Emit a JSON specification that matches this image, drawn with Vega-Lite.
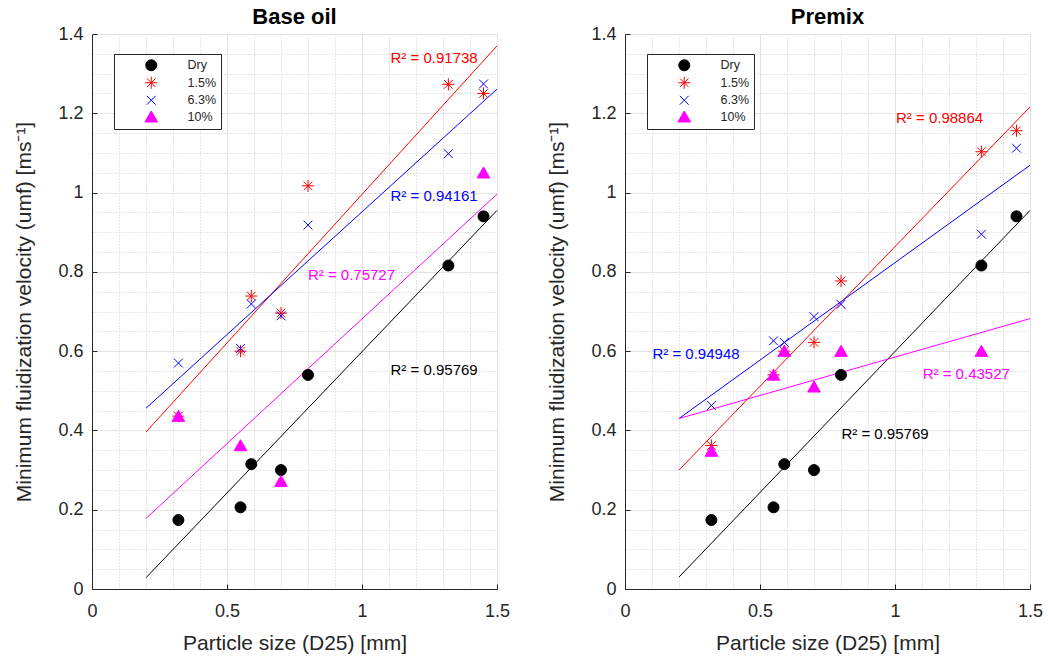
{
  "$schema": "https://vega.github.io/schema/vega-lite/v6.json",
  "background": "white",
  "padding": {"left": 13, "top": 5, "right": 5, "bottom": 3},
  "spacing": 128,
  "bounds": "flush",
  "config": {
    "font": "Liberation Sans",
    "view": {"stroke": null},
    "axis": {
      "labelFont": "Liberation Sans", "labelFontSize": 18, "labelColor": "#262626",
      "titleFont": "Liberation Sans", "titleFontSize": 21, "titleFontWeight": "normal", "titleColor": "#262626",
      "domainColor": "#262626", "tickColor": "#262626", "gridColor": "#e3e3e3"
    },
    "legend": {"title": null, "strokeColor": "#262626", "fillColor": "white", "padding": 5, "symbolOffset": 26, "labelOffset": 30, "labelFontSize": 12.5, "labelFont": "Liberation Sans", "labelColor": "#262626", "rowPadding": 1.5, "symbolSize": 121, "symbolStrokeWidth": 1},
    "title": {"font": "Liberation Sans", "fontSize": 22, "fontWeight": "bold", "color": "#000000", "offset": -3.5, "frame": "group"}
  },
  "datasets": {
    "points": [
      {"panel": "Base oil", "series": "Dry", "x": 0.32, "y": 0.174},
      {"panel": "Base oil", "series": "Dry", "x": 0.55, "y": 0.206},
      {"panel": "Base oil", "series": "Dry", "x": 0.59, "y": 0.315},
      {"panel": "Base oil", "series": "Dry", "x": 0.70, "y": 0.300},
      {"panel": "Base oil", "series": "Dry", "x": 0.80, "y": 0.540},
      {"panel": "Base oil", "series": "Dry", "x": 1.32, "y": 0.816},
      {"panel": "Base oil", "series": "Dry", "x": 1.45, "y": 0.940},
      {"panel": "Base oil", "series": "1.5%", "x": 0.32, "y": 0.436},
      {"panel": "Base oil", "series": "1.5%", "x": 0.55, "y": 0.600},
      {"panel": "Base oil", "series": "1.5%", "x": 0.59, "y": 0.739},
      {"panel": "Base oil", "series": "1.5%", "x": 0.70, "y": 0.696},
      {"panel": "Base oil", "series": "1.5%", "x": 0.80, "y": 1.017},
      {"panel": "Base oil", "series": "1.5%", "x": 1.32, "y": 1.273},
      {"panel": "Base oil", "series": "1.5%", "x": 1.45, "y": 1.250},
      {"panel": "Base oil", "series": "6.3%", "x": 0.32, "y": 0.570},
      {"panel": "Base oil", "series": "6.3%", "x": 0.55, "y": 0.607},
      {"panel": "Base oil", "series": "6.3%", "x": 0.59, "y": 0.719},
      {"panel": "Base oil", "series": "6.3%", "x": 0.70, "y": 0.689},
      {"panel": "Base oil", "series": "6.3%", "x": 0.80, "y": 0.918},
      {"panel": "Base oil", "series": "6.3%", "x": 1.32, "y": 1.098},
      {"panel": "Base oil", "series": "6.3%", "x": 1.45, "y": 1.274},
      {"panel": "Base oil", "series": "10%", "x": 0.32, "y": 0.436},
      {"panel": "Base oil", "series": "10%", "x": 0.55, "y": 0.362},
      {"panel": "Base oil", "series": "10%", "x": 0.70, "y": 0.272},
      {"panel": "Base oil", "series": "10%", "x": 1.45, "y": 1.050},
      {"panel": "Premix", "series": "Dry", "x": 0.32, "y": 0.174},
      {"panel": "Premix", "series": "Dry", "x": 0.55, "y": 0.206},
      {"panel": "Premix", "series": "Dry", "x": 0.59, "y": 0.315},
      {"panel": "Premix", "series": "Dry", "x": 0.70, "y": 0.300},
      {"panel": "Premix", "series": "Dry", "x": 0.80, "y": 0.540},
      {"panel": "Premix", "series": "Dry", "x": 1.32, "y": 0.816},
      {"panel": "Premix", "series": "Dry", "x": 1.45, "y": 0.940},
      {"panel": "Premix", "series": "1.5%", "x": 0.32, "y": 0.362},
      {"panel": "Premix", "series": "1.5%", "x": 0.55, "y": 0.540},
      {"panel": "Premix", "series": "1.5%", "x": 0.59, "y": 0.600},
      {"panel": "Premix", "series": "1.5%", "x": 0.70, "y": 0.622},
      {"panel": "Premix", "series": "1.5%", "x": 0.80, "y": 0.777},
      {"panel": "Premix", "series": "1.5%", "x": 1.32, "y": 1.103},
      {"panel": "Premix", "series": "1.5%", "x": 1.45, "y": 1.156},
      {"panel": "Premix", "series": "6.3%", "x": 0.32, "y": 0.463},
      {"panel": "Premix", "series": "6.3%", "x": 0.55, "y": 0.626},
      {"panel": "Premix", "series": "6.3%", "x": 0.59, "y": 0.622},
      {"panel": "Premix", "series": "6.3%", "x": 0.70, "y": 0.687},
      {"panel": "Premix", "series": "6.3%", "x": 0.80, "y": 0.718},
      {"panel": "Premix", "series": "6.3%", "x": 1.32, "y": 0.895},
      {"panel": "Premix", "series": "6.3%", "x": 1.45, "y": 1.112},
      {"panel": "Premix", "series": "10%", "x": 0.32, "y": 0.348},
      {"panel": "Premix", "series": "10%", "x": 0.55, "y": 0.540},
      {"panel": "Premix", "series": "10%", "x": 0.59, "y": 0.600},
      {"panel": "Premix", "series": "10%", "x": 0.70, "y": 0.510},
      {"panel": "Premix", "series": "10%", "x": 0.80, "y": 0.600},
      {"panel": "Premix", "series": "10%", "x": 1.32, "y": 0.600}
    ],
    "fits": [
      {"panel": "Base oil", "series": "Dry", "x": 0.2, "y": 0.0285},
      {"panel": "Base oil", "series": "Dry", "x": 1.5, "y": 0.955},
      {"panel": "Base oil", "series": "1.5%", "x": 0.2, "y": 0.396},
      {"panel": "Base oil", "series": "1.5%", "x": 1.5, "y": 1.370},
      {"panel": "Base oil", "series": "6.3%", "x": 0.2, "y": 0.456},
      {"panel": "Base oil", "series": "6.3%", "x": 1.5, "y": 1.261},
      {"panel": "Base oil", "series": "10%", "x": 0.2, "y": 0.178},
      {"panel": "Base oil", "series": "10%", "x": 1.5, "y": 0.996},
      {"panel": "Premix", "series": "Dry", "x": 0.2, "y": 0.030},
      {"panel": "Premix", "series": "Dry", "x": 1.5, "y": 0.955},
      {"panel": "Premix", "series": "1.5%", "x": 0.2, "y": 0.300},
      {"panel": "Premix", "series": "1.5%", "x": 1.5, "y": 1.216},
      {"panel": "Premix", "series": "6.3%", "x": 0.2, "y": 0.430},
      {"panel": "Premix", "series": "6.3%", "x": 1.5, "y": 1.069},
      {"panel": "Premix", "series": "10%", "x": 0.2, "y": 0.430},
      {"panel": "Premix", "series": "10%", "x": 1.5, "y": 0.682}
    ],
    "labels": [
      {"panel": "Base oil", "series": "1.5%", "x": 1.267, "y": 1.34, "text": "R² = 0.91738"},
      {"panel": "Base oil", "series": "6.3%", "x": 1.267, "y": 0.991, "text": "R² = 0.94161"},
      {"panel": "Base oil", "series": "10%", "x": 0.961, "y": 0.791, "text": "R² = 0.75727"},
      {"panel": "Base oil", "series": "Dry", "x": 1.267, "y": 0.552, "text": "R² = 0.95769"},
      {"panel": "Premix", "series": "1.5%", "x": 1.165, "y": 1.187, "text": "R² = 0.98864"},
      {"panel": "Premix", "series": "6.3%", "x": 0.263, "y": 0.593, "text": "R² = 0.94948"},
      {"panel": "Premix", "series": "10%", "x": 1.264, "y": 0.543, "text": "R² = 0.43527"},
      {"panel": "Premix", "series": "Dry", "x": 0.963, "y": 0.392, "text": "R² = 0.95769"}
    ]
  },
  "resolve": {
    "scale": {"fill": "independent", "stroke": "independent", "shape": "independent"},
    "legend": {"fill": "independent", "stroke": "independent", "shape": "independent"}
  },
  "hconcat": [
    {
      "width": 405, "height": 555,
      "title": {"text": "Base oil"},
      "resolve": {"axis": {"x": "independent", "y": "independent"}},
      "layer": [
        {
          "data": {"name": "fits"},
          "transform": [{"filter": "datum.panel === 'Base oil'"}],
          "mark": {"type": "line", "strokeWidth": 1},
          "encoding": {
            "x": {"field": "x", "type": "quantitative", "scale": {"domain": [0, 1.5], "nice": false, "zero": false},
              "axis": {"orient": "bottom", "values": [0.1,0.2,0.3,0.4,0.6,0.7,0.8,0.9,1.1,1.2,1.3,1.4], "grid": true, "gridDash": [1,2], "gridColor": "#cfcfcf", "labels": false, "ticks": false, "domain": false, "title": null}},
            "y": {"field": "y", "type": "quantitative", "scale": {"domain": [0, 1.4], "nice": false},
              "axis": {"orient": "left", "values": [0.05,0.1,0.15,0.25,0.3,0.35,0.45,0.5,0.55,0.65,0.7,0.75,0.85,0.9,0.95,1.05,1.1,1.15,1.25,1.3,1.35], "grid": true, "gridDash": [1,2], "gridColor": "#cfcfcf", "labels": false, "ticks": false, "domain": false, "title": null}},
            "color": {"field": "series", "type": "nominal", "scale": {"domain": ["Dry","1.5%","6.3%","10%"], "range": ["#000000","#ff0000","#0000ff","#ff00ff"]}, "legend": null}
          }
        },
        {
          "data": {"name": "points"},
          "transform": [{"filter": "datum.panel === 'Base oil'"}],
          "mark": {"type": "point", "filled": true, "size": 121, "strokeWidth": 1, "opacity": 1},
          "encoding": {
            "x": {"field": "x", "type": "quantitative", "scale": {"domain": [0, 1.5], "nice": false, "zero": false},
              "axis": {"orient": "bottom", "values": [0, 0.5, 1, 1.5], "format": "~g", "grid": true, "tickSize": -5, "labelPadding": 18, "labelFlush": false, "title": "Particle size (D25) [mm]", "titlePadding": 12}},
            "y": {"field": "y", "type": "quantitative", "scale": {"domain": [0, 1.4], "nice": false},
              "axis": {"orient": "left", "values": [0,0.2,0.4,0.6,0.8,1,1.2,1.4], "format": "~g", "grid": true, "tickSize": -5, "labelPadding": 14, "labelFlush": false, "title": "Minimum fluidization velocity (umf) [ms⁻¹]", "titlePadding": 23}},
            "fill": {"field": "series", "type": "nominal", "scale": {"domain": ["Dry","1.5%","6.3%","10%"], "range": ["#000000","#ff0000","#0000ff","#ff00ff"]}},
            "stroke": {"field": "series", "type": "nominal", "scale": {"domain": ["Dry","1.5%","6.3%","10%"], "range": ["#000000","#ff0000","#0000ff","#ff00ff"]}},
            "shape": {"field": "series", "type": "nominal", "scale": {"domain": ["Dry","1.5%","6.3%","10%"], "range": ["circle", "M0,-1.1L0,1.1M-1.1,0L1.1,0M-0.78,-0.78L0.78,0.78M-0.78,0.78L0.78,-0.78", "M-0.8,-0.8L0.8,0.8M-0.8,0.8L0.8,-0.8", "M0,-1.05L1.15,0.95L-1.15,0.95Z"]},
              "legend": {"orient": "none", "legendX": 22, "legendY": 20}}
          }
        },
        {
          "data": {"name": "labels"},
          "transform": [{"filter": "datum.panel === 'Base oil'"}],
          "mark": {"type": "text", "fontSize": 15, "font": "Liberation Sans", "align": "center", "baseline": "middle"},
          "encoding": {
            "x": {"field": "x", "type": "quantitative", "axis": null},
            "y": {"field": "y", "type": "quantitative", "axis": null},
            "text": {"field": "text"},
            "color": {"field": "series", "type": "nominal", "scale": {"domain": ["Dry","1.5%","6.3%","10%"], "range": ["#000000","#ff0000","#0000ff","#ff00ff"]}, "legend": null}
          }
        }
      ]
    },
    {
      "width": 405, "height": 555,
      "title": {"text": "Premix"},
      "resolve": {"axis": {"x": "independent", "y": "independent"}},
      "layer": [
        {
          "data": {"name": "fits"},
          "transform": [{"filter": "datum.panel === 'Premix'"}],
          "mark": {"type": "line", "strokeWidth": 1},
          "encoding": {
            "x": {"field": "x", "type": "quantitative", "scale": {"domain": [0, 1.5], "nice": false, "zero": false},
              "axis": {"orient": "bottom", "values": [0.1,0.2,0.3,0.4,0.6,0.7,0.8,0.9,1.1,1.2,1.3,1.4], "grid": true, "gridDash": [1,2], "gridColor": "#cfcfcf", "labels": false, "ticks": false, "domain": false, "title": null}},
            "y": {"field": "y", "type": "quantitative", "scale": {"domain": [0, 1.4], "nice": false},
              "axis": {"orient": "left", "values": [0.05,0.1,0.15,0.25,0.3,0.35,0.45,0.5,0.55,0.65,0.7,0.75,0.85,0.9,0.95,1.05,1.1,1.15,1.25,1.3,1.35], "grid": true, "gridDash": [1,2], "gridColor": "#cfcfcf", "labels": false, "ticks": false, "domain": false, "title": null}},
            "color": {"field": "series", "type": "nominal", "scale": {"domain": ["Dry","1.5%","6.3%","10%"], "range": ["#000000","#ff0000","#0000ff","#ff00ff"]}, "legend": null}
          }
        },
        {
          "data": {"name": "points"},
          "transform": [{"filter": "datum.panel === 'Premix'"}],
          "mark": {"type": "point", "filled": true, "size": 121, "strokeWidth": 1, "opacity": 1},
          "encoding": {
            "x": {"field": "x", "type": "quantitative", "scale": {"domain": [0, 1.5], "nice": false, "zero": false},
              "axis": {"orient": "bottom", "values": [0, 0.5, 1, 1.5], "format": "~g", "grid": true, "tickSize": -5, "labelPadding": 18, "labelFlush": false, "title": "Particle size (D25) [mm]", "titlePadding": 12}},
            "y": {"field": "y", "type": "quantitative", "scale": {"domain": [0, 1.4], "nice": false},
              "axis": {"orient": "left", "values": [0,0.2,0.4,0.6,0.8,1,1.2,1.4], "format": "~g", "grid": true, "tickSize": -5, "labelPadding": 14, "labelFlush": false, "title": "Minimum fluidization velocity (umf) [ms⁻¹]", "titlePadding": 23}},
            "fill": {"field": "series", "type": "nominal", "scale": {"domain": ["Dry","1.5%","6.3%","10%"], "range": ["#000000","#ff0000","#0000ff","#ff00ff"]}},
            "stroke": {"field": "series", "type": "nominal", "scale": {"domain": ["Dry","1.5%","6.3%","10%"], "range": ["#000000","#ff0000","#0000ff","#ff00ff"]}},
            "shape": {"field": "series", "type": "nominal", "scale": {"domain": ["Dry","1.5%","6.3%","10%"], "range": ["circle", "M0,-1.1L0,1.1M-1.1,0L1.1,0M-0.78,-0.78L0.78,0.78M-0.78,0.78L0.78,-0.78", "M-0.8,-0.8L0.8,0.8M-0.8,0.8L0.8,-0.8", "M0,-1.05L1.15,0.95L-1.15,0.95Z"]},
              "legend": {"orient": "none", "legendX": 22, "legendY": 20}}
          }
        },
        {
          "data": {"name": "labels"},
          "transform": [{"filter": "datum.panel === 'Premix'"}],
          "mark": {"type": "text", "fontSize": 15, "font": "Liberation Sans", "align": "center", "baseline": "middle"},
          "encoding": {
            "x": {"field": "x", "type": "quantitative", "axis": null},
            "y": {"field": "y", "type": "quantitative", "axis": null},
            "text": {"field": "text"},
            "color": {"field": "series", "type": "nominal", "scale": {"domain": ["Dry","1.5%","6.3%","10%"], "range": ["#000000","#ff0000","#0000ff","#ff00ff"]}, "legend": null}
          }
        }
      ]
    }
  ]
}
